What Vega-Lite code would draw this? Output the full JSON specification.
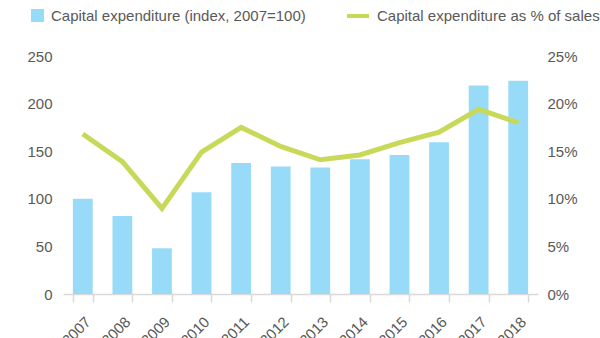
{
  "$schema": "https://vega.github.io/schema/vega-lite/v6.json",
  "width": 475,
  "height": 238,
  "autosize": {"type": "none"},
  "padding": {"left": 63, "top": 56, "right": 62, "bottom": 44},
  "config": {
    "view": {"stroke": null},
    "font": "Liberation Sans",
    "axis": {"labelFont": "Liberation Sans", "labelColor": "#595959", "labelFontSize": 15, "grid": false, "title": null},
    "legend": {"labelFont": "Liberation Sans", "labelColor": "#595959", "labelFontSize": 15, "labelLimit": 0, "title": null, "padding": 0, "labelOffset": 6, "orient": "none"}
  },
  "data": {
    "values": [
      {"year": "2007", "capex": 100, "pct": 0.168},
      {"year": "2008", "capex": 82, "pct": 0.139},
      {"year": "2009", "capex": 48, "pct": 0.090},
      {"year": "2010", "capex": 107, "pct": 0.149},
      {"year": "2011", "capex": 137.5, "pct": 0.175},
      {"year": "2012", "capex": 134, "pct": 0.155},
      {"year": "2013", "capex": 133, "pct": 0.141},
      {"year": "2014", "capex": 141.5, "pct": 0.146},
      {"year": "2015", "capex": 146, "pct": 0.159},
      {"year": "2016", "capex": 159.5, "pct": 0.170},
      {"year": "2017", "capex": 219, "pct": 0.194},
      {"year": "2018", "capex": 224, "pct": 0.180}
    ]
  },
  "encoding": {
    "x": {
      "field": "year",
      "type": "ordinal",
      "scale": {"paddingInner": 0.5, "paddingOuter": 0.25},
      "axis": {
        "labelAngle": -45,
        "labelAlign": "right",
        "labelBaseline": "top",
        "labelPadding": 12,
        "domainColor": "#d9d9d9",
        "tickColor": "#d9d9d9",
        "tickSize": 8,
        "tickBand": "extent",
        "domainWidth": 1.5,
        "tickWidth": 1.5
      }
    }
  },
  "layer": [
    {
      "mark": {"type": "bar", "color": "#97dbf8"},
      "encoding": {
        "y": {
          "field": "capex",
          "type": "quantitative",
          "scale": {"domain": [0, 250]},
          "axis": {"orient": "left", "values": [0, 50, 100, 150, 200, 250], "domain": false, "ticks": false, "labelPadding": 11}
        },
        "fill": {
          "datum": "Capital expenditure (index, 2007=100)",
          "scale": {"range": ["#97dbf8"]},
          "legend": {"symbolType": "square", "symbolSize": 169, "legendX": -33, "legendY": -48}
        }
      }
    },
    {
      "mark": {"type": "line", "strokeWidth": 5, "color": "#c8d95a"},
      "encoding": {
        "y": {
          "field": "pct",
          "type": "quantitative",
          "scale": {"domain": [0, 0.25]},
          "axis": {"orient": "right", "format": ".0%", "values": [0, 0.05, 0.1, 0.15, 0.2, 0.25], "domain": false, "ticks": false, "labelPadding": 9}
        },
        "stroke": {
          "datum": "Capital expenditure as % of sales",
          "scale": {"range": ["#c8d95a"]},
          "legend": {"symbolType": "stroke", "symbolSize": 484, "symbolStrokeWidth": 4, "legendX": 282, "legendY": -53}
        }
      }
    }
  ],
  "resolve": {"scale": {"y": "independent", "fill": "independent", "stroke": "independent"}}
}
